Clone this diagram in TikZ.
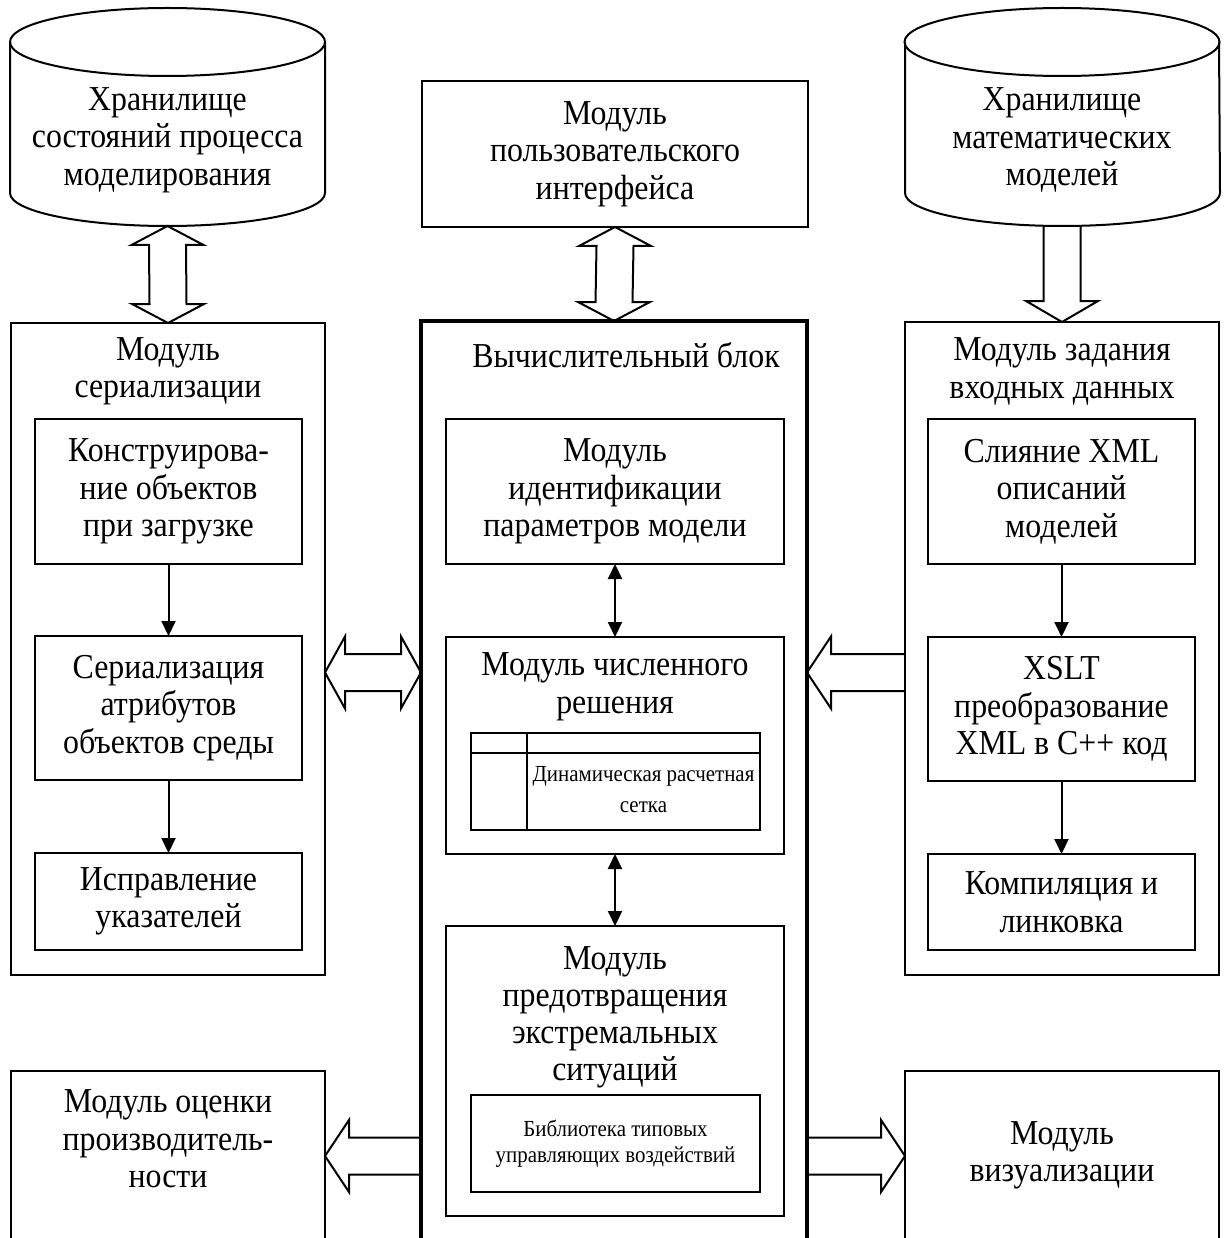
\documentclass[tikz,border=0pt]{standalone}
\usepackage{fontspec}
\setmainfont{Liberation Serif}[FakeStretch=0.91]
\usetikzlibrary{arrows.meta,calc}

\newcommand\bigtext{\fontsize{35}{37.5}\selectfont}
\newcommand\smalltext{\fontsize{23}{31}\selectfont}
\newcommand\libtext{\fontsize{23}{26}\selectfont}

% block arrows between two points (pixel grid, y grows downwards)
\newcommand\blkvv[2]{\draw[blk] (#1) -- ++(36,19) -- ++(-17.5,0) -- ($(#2)+(18.5,-19)$) -- ++(17.5,0) -- (#2) -- ++(-36,-19) -- ++(17.5,0) -- ($(#1)+(-18.5,19)$) -- ++(-17.5,0) -- cycle;}
\newcommand\blkvdown[2]{\draw[blk] ($(#1)+(18.5,0)$) -- ($(#2)+(18.5,-21)$) -- ++(17.5,0) -- (#2) -- ++(-36,-21) -- ++(17.5,0) -- ($(#1)+(-18.5,0)$);}
\newcommand\blkhh[2]{\draw[blk] (#1) -- ++(20,-36) -- ++(0,17.5) -- ($(#2)+(-20,-18.5)$) -- ++(0,-17.5) -- (#2) -- ++(-20,36) -- ++(0,-17.5) -- ($(#1)+(20,18.5)$) -- ++(0,17.5) -- cycle;}
\newcommand\blkleft[2]{\draw[blk] ($(#2)+(0,-18.5)$) -- ($(#1)+(24,-18.5)$) -- ++(0,-17.5) -- (#1) -- ++(24,36) -- ++(0,-17.5) -- ($(#2)+(0,18.5)$);}
\newcommand\blkright[2]{\draw[blk] ($(#1)+(0,-18.5)$) -- ($(#2)+(-24,-18.5)$) -- ++(0,-17.5) -- (#2) -- ++(-24,36) -- ++(0,-17.5) -- ($(#1)+(0,18.5)$);}

% outline of a storage drum around an invisible node
\newcommand\drum[1]{%
  \draw[line width=2pt] ($(#1.north)+(0,34)$) ellipse [x radius=157.5pt, y radius=34pt];
  \draw[line width=2pt] ($(#1.north west)+(0,34)$) -- ($(#1.south west)+(0,-33)$)
    arc[start angle=180, end angle=360, x radius=157.5pt, y radius=33pt]
    -- ($(#1.north east)+(0,34)$);}

\tikzset{
  area/.style={inner sep=0pt, outer sep=0pt},
  frame/.style={draw, line width=2pt, inner sep=0pt, outer sep=0pt},
  box/.style={draw, line width=2pt, align=center, inner sep=0pt, outer sep=0pt, font=\bigtext},
  txt/.style={align=center, inner sep=0pt, font=\bigtext},
  flow/.style={line width=2pt, -{Triangle[length=15pt,width=14pt]}},
  flowboth/.style={line width=2pt, {Triangle[length=15pt,width=14pt]}-{Triangle[length=15pt,width=14pt]}},
  blk/.style={draw, line width=2pt, line join=miter},
}

\begin{document}
\begin{tikzpicture}[x=1pt,y=-1pt]
\useasboundingbox (0,0) rectangle (1224,1238);

% storages and user interface
\node[area, minimum width=315pt, minimum height=218pt] (lcyl) at (167.5,117) {};
\drum{lcyl}
\node[txt] (lcyltext) at (167.5,140) {Хранилище\\состояний процесса\\моделирования};

\node[area, minimum width=314pt, minimum height=218pt] (rcyl) at (1062,117) {};
\drum{rcyl}
\node[txt] (rcyltext) at (1062,140) {Хранилище\\математических\\моделей};

\node[box, minimum width=386pt, minimum height=146pt] (ui) at (615,154) {Модуль\\пользовательского\\интерфейса};

% serialization module
\node[frame, minimum width=314pt, minimum height=652pt] (ser) at (168,649) {};
\node[txt] (sertitle) at (168,371.5) {Модуль\\сериализации};
\node[box, minimum width=267pt, minimum height=145pt] (s1) at (168.5,491.5) {Конструирова-\\ние объектов\\при загрузке};
\node[box, minimum width=267pt, minimum height=144pt] (s2) at (168.5,708) {Сериализация\\атрибутов\\объектов среды};
\node[box, minimum width=267pt, minimum height=97pt] (s3) at (168.5,901.5) {Исправление\\указателей};
\draw[flow] (s1) -- (s2);
\draw[flow] (s2) -- (s3);

% computing block
\node[area, minimum width=386pt, minimum height=917pt] (comp) at (614,779.5) {};
\draw[line width=3.5pt] (comp.south west) -- (comp.north west) -- (comp.north east) -- (comp.south east);
\node[txt] (comptitle) at (626,355) {Вычислительный блок};
\node[box, minimum width=338pt, minimum height=145pt] (ident) at (615,491.5) {Модуль\\идентификации\\параметров модели};
\node[frame, minimum width=338pt, minimum height=217pt] (num) at (615,745.5) {};
\node[txt] (numtitle) at (615,687) {Модуль численного\\решения};
\node[frame, minimum width=289pt, minimum height=97pt] (grid) at (615.5,781.5) {};
\draw[line width=2pt] ($(grid.north west)+(0,19.5)$) -- ($(grid.north east)+(0,19.5)$);
\draw[line width=2pt] ($(grid.north west)+(56,0)$) -- ($(grid.south west)+(56,0)$);
\node[txt, font=\smalltext] (gridtext) at (643.5,789.5) {Динамическая расчетная\\сетка};
\node[frame, minimum width=338pt, minimum height=290pt] (ext) at (615,1071) {};
\node[txt, font=\fontsize{35}{37}\selectfont] (exttitle) at (615,1017) {Модуль\\предотвращения\\экстремальных\\ситуаций};
\node[box, font=\libtext, minimum width=289pt, minimum height=97pt] (lib) at (615.5,1143.5) {Библиотека типовых\\управляющих воздействий};
\draw[flowboth] (ident) -- (num);
\draw[flowboth] (num) -- (ext);

% input data module
\node[frame, minimum width=314pt, minimum height=653pt] (inp) at (1062,648.5) {};
\node[txt] (inptitle) at (1062,371.5) {Модуль задания\\входных данных};
\node[box, minimum width=267pt, minimum height=145pt] (r1) at (1061.5,491.5) {Слияние XML\\описаний\\моделей};
\node[box, minimum width=267pt, minimum height=144pt] (r2) at (1061.5,709) {XSLT\\преобразование\\XML в C++ код};
\node[box, minimum width=267pt, minimum height=96pt] (r3) at (1061.5,902) {Компиляция и\\линковка};
\draw[flow] (r1) -- (r2);
\draw[flow] (r2) -- (r3);

% output modules, open at the lower edge
\node[area, minimum width=314pt, minimum height=167pt] (perf) at (168,1154.5) {};
\draw[line width=2pt] (perf.south west) -- (perf.north west) -- (perf.north east) -- (perf.south east);
\node[txt] (perftext) at (168,1139) {Модуль оценки\\производитель-\\ности};
\node[area, minimum width=314pt, minimum height=167pt] (vis) at (1062,1154.5) {};
\draw[line width=2pt] (vis.south west) -- (vis.north west) -- (vis.north east) -- (vis.south east);
\node[txt] (vistext) at (1062,1155.5) {Модуль\\визуализации};

% block arrows
\coordinate (midrow) at (0,672.5);
\coordinate (lowrow) at (0,1156);
\blkvv{lcyl.south}{ser.north}
\blkvv{ui.south}{comp.north}
\blkvdown{rcyl.south}{inp.north}
\blkhh{ser.east |- midrow}{comp.west |- midrow}
\blkleft{comp.east |- midrow}{inp.west |- midrow}
\blkleft{perf.east |- lowrow}{comp.west |- lowrow}
\blkright{comp.east |- lowrow}{vis.west |- lowrow}
\end{tikzpicture}
\end{document}
